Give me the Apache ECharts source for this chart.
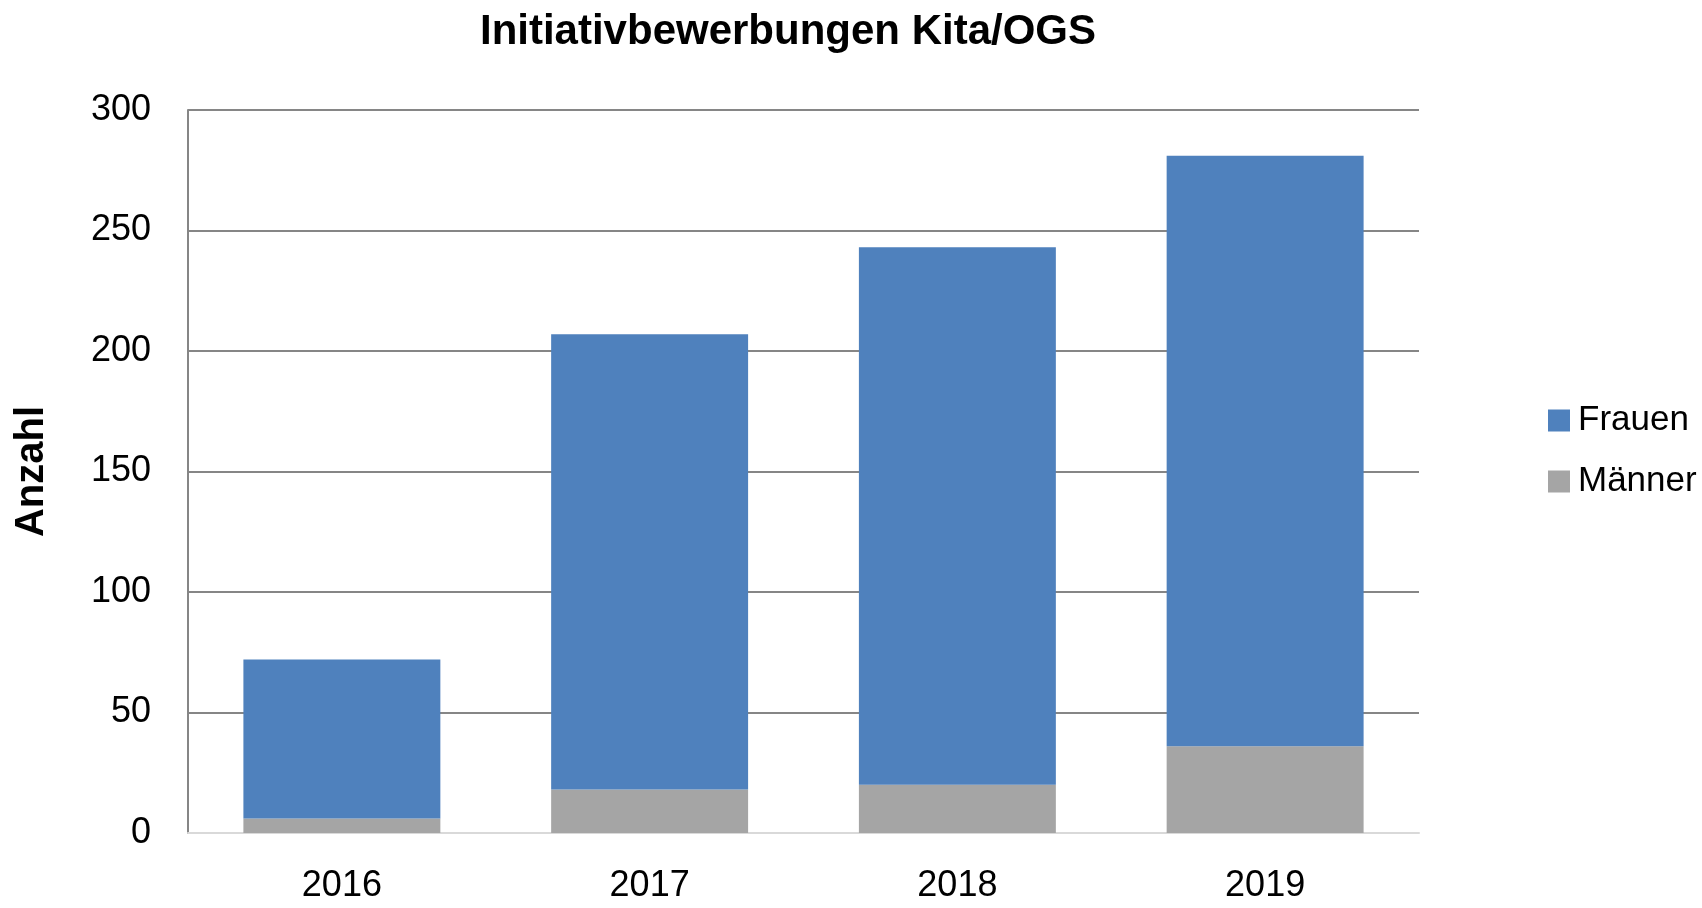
<!DOCTYPE html>
<html>
<head>
<meta charset="utf-8">
<script src="https://cdn.jsdelivr.net/npm/echarts@6/dist/echarts.min.js"></script>
<style>
  html, body { margin: 0; padding: 0; background: #fff; }
  #chart { width: 1702px; height: 908px; }
</style>
</head>
<body>
<div id="chart"></div>
<script>
// Daten
const years = ['2016', '2017', '2018', '2019'];
const frauen = [66, 189, 223, 245];
const maenner = [6, 18, 20, 36];
const yTicks = [0, 50, 100, 150, 200, 250, 300];

const FONT = '"Liberation Sans Narrow", "Arial Narrow", "Liberation Sans", Arial, sans-serif';

const chart = echarts.init(document.getElementById('chart'));

chart.setOption({
  animation: false,
  textStyle: { fontFamily: FONT },
  title: {
    text: 'Initiativbewerbungen Kita/OGS',
    left: 783,
    textAlign: 'center',
    top: 6,
    textStyle: { fontFamily: FONT, fontSize: 42, fontWeight: 'bold', color: '#000' }
  },
  legend: {
    orient: 'vertical',
    left: 1543,
    top: 398,
    itemWidth: 22,
    itemHeight: 22,
    itemGap: 26,
    icon: 'rect',
    data: ['Frauen', 'Männer'],
    textStyle: { fontFamily: FONT, fontSize: 35, color: '#000', padding: [0, 0, 0, 3] }
  },
  grid: { left: 188, right: 283, top: 110, bottom: 75, outerBoundsMode: 'none', containLabel: false },
  xAxis: {
    type: 'category',
    data: years,
    axisTick: { show: false },
    axisLine: { lineStyle: { color: '#d9d9d9', width: 2 } },
    axisLabel: { fontFamily: FONT, fontSize: 36, color: '#000', margin: 35 }
  },
  yAxis: {
    type: 'value',
    min: yTicks[0],
    max: yTicks[yTicks.length - 1],
    interval: 50,
    name: 'Anzahl',
    nameLocation: 'middle',
    nameGap: 136,
    nameTextStyle: { fontFamily: FONT, fontSize: 40, fontWeight: 'bold', color: '#000' },
    axisLine: { show: true, lineStyle: { color: '#868686', width: 2 } },
    axisTick: { show: false },
    splitLine: { lineStyle: { color: '#868686', width: 2 } },
    axisLabel: { fontFamily: FONT, fontSize: 36, color: '#000', margin: 37 }
  },
  series: [
    {
      name: 'Männer',
      type: 'bar',
      stack: 'total',
      barWidth: '64%',
      data: maenner,
      itemStyle: { color: '#A5A5A5' }
    },
    {
      name: 'Frauen',
      type: 'bar',
      stack: 'total',
      barWidth: '64%',
      data: frauen,
      itemStyle: { color: '#4F81BD' }
    }
  ]
});
</script>
</body>
</html>
